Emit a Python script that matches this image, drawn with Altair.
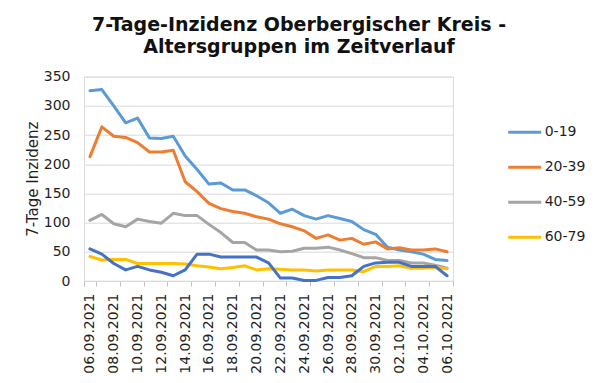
import altair as alt
import pandas as pd

dates = [f"{d:02d}.09.2021" for d in range(6, 31)] + [f"{d:02d}.10.2021" for d in range(1, 7)]

groups = ["0-19", "20-39", "40-59", "60-79", "80+"]
colors = ["#5B9BD5", "#ED7D31", "#A5A5A5", "#FFC000", "#4472C4"]

v_0_19 = [326, 328, 300, 271, 279, 245, 244, 248, 214, 191, 166, 168, 156, 156, 146, 134,
          116, 123, 112, 106, 112, 107, 102, 88, 80, 58, 53, 50, 46, 37, 35]
v_20_39 = [213, 264, 248, 246, 237, 221, 221, 224, 170, 153, 133, 124, 119, 116, 110, 106,
           98, 93, 86, 73, 79, 70, 73, 63, 67, 55, 57, 53, 53, 55, 50]
v_40_59 = [104, 114, 98, 93, 106, 102, 99, 116, 112, 112, 97, 83, 66, 66, 53, 53,
           50, 51, 56, 56, 58, 53, 47, 40, 40, 35, 35, 31, 31, 27, 22]
v_60_79 = [42, 36, 37, 37, 30, 30, 30, 30, 29, 26, 24, 21, 23, 26, 19, 21,
           20, 19, 19, 17, 19, 19, 19, 16, 25, 25, 26, 22, 22, 23, 21]
v_80 = [55, 46, 30, 19, 25, 19, 15, 9, 19, 46, 46, 41, 41, 41, 41, 31,
        5, 5, 1, 1, 6, 6, 9, 25, 31, 32, 32, 25, 25, 25, 9]

series = [v_0_19, v_20_39, v_40_59, v_60_79, v_80]
rows = []
for g, vals in zip(groups, series):
    for i, (d, v) in enumerate(zip(dates, vals)):
        rows.append({"date": d, "group": g, "value": v, "gi": groups.index(g)})
df = pd.DataFrame(rows)

FONT = "DejaVu Sans"
TXT = "#1f1f1f"

chart = alt.Chart(df).mark_line(strokeWidth=3, strokeJoin="round", strokeCap="round").encode(
    x=alt.X("date:O", sort=dates,
            scale=alt.Scale(type="band", paddingInner=0, paddingOuter=0),
            axis=alt.Axis(values=dates[::2], labelAngle=-90, tickBand="extent", title=None,
                          domainColor="#d9d9d9", tickColor="#bfbfbf", tickSize=5,
                          labelFont=FONT, labelFontSize=14, labelColor=TXT, labelPadding=7,
                          grid=False)),
    y=alt.Y("value:Q", scale=alt.Scale(domain=[0, 350], nice=False),
            axis=alt.Axis(values=list(range(0, 351, 50)), title="7-Tage Inzidenz",
                          grid=True, gridColor="#d9d9d9", domain=False, ticks=False,
                          labelPadding=14, labelFont=FONT, labelFontSize=14, labelColor=TXT,
                          titleFont=FONT, titleFontSize=15, titleFontWeight="normal", titleColor=TXT,
                          titleAngle=-90, titleX=-52, titleY=102, titleAlign="center",
                          titleBaseline="middle")),
    color=alt.Color("group:N",
                    scale=alt.Scale(domain=groups, range=colors),
                    legend=alt.Legend(values=groups[:4], orient="none", legendX=422.7, legendY=37.5,
                                      title=None, symbolType="stroke", symbolSize=1089,
                                      symbolStrokeWidth=3, labelFont=FONT, labelFontSize=14,
                                      labelColor=TXT, labelOffset=2, rowPadding=10)),
    order=alt.Order("gi:Q"),
).properties(
    width=369, height=204.3,
    autosize=alt.AutoSizeParams(type="none"),
    padding={"left": 76, "top": 68.7, "right": 139, "bottom": 102},
    title=alt.TitleParams(
        text=["7-Tage-Inzidenz Oberbergischer Kreis -", "Altersgruppen im Zeitverlauf"],
        font=FONT, fontSize=19, fontWeight="bold", color="#111111",
        anchor="middle", frame="group", baseline="bottom", offset=21, lineHeight=22,
        dx=30.5, dy=27.5),
).configure_view(strokeWidth=0).configure(background="white")

chart.save("out.html", embed_options={"renderer": "svg", "actions": False})
